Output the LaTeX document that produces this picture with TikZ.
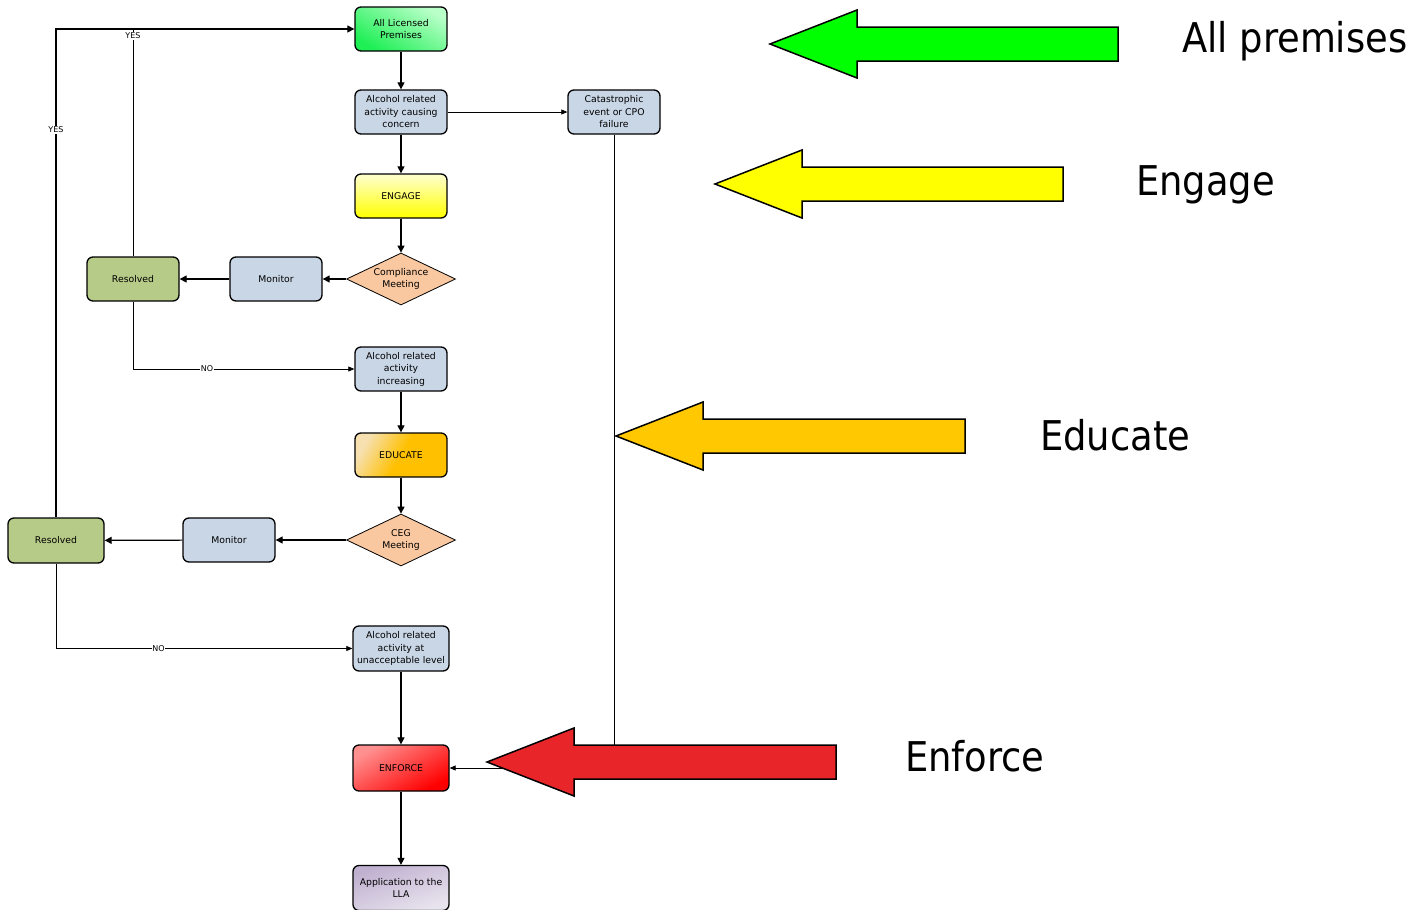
\documentclass[tikz,border=0pt]{standalone}
\usepackage{fontspec}
\setmainfont{DejaVu Sans}
\newfontfamily\bigfont{DejaVu Sans Condensed}
\usetikzlibrary{shapes.geometric,arrows.meta}
\definecolor{gLight}{HTML}{B8FFC8}
\definecolor{gDark}{HTML}{1EEF55}
\definecolor{yLight}{HTML}{FFFFD0}
\definecolor{yDark}{HTML}{FFFF00}
\definecolor{oLight}{HTML}{F6E0B0}
\definecolor{oDark}{HTML}{FFC000}
\definecolor{rLight}{HTML}{FF9090}
\definecolor{rDark}{HTML}{FF0000}
\definecolor{pLight}{HTML}{E8E4EE}
\definecolor{pDark}{HTML}{C0B0D0}
\definecolor{boxBlue}{HTML}{C9D6E6}
\definecolor{resGreen}{HTML}{B6CB87}
\definecolor{diaOrange}{HTML}{F9C8A0}
\definecolor{arrGreen}{HTML}{00FF00}
\definecolor{arrYellow}{HTML}{FFFF00}
\definecolor{arrOrange}{HTML}{FFC800}
\definecolor{arrRed}{HTML}{E8262A}
\tikzset{
  box/.style={draw=black, line width=1.3pt, rounded corners=6pt, minimum width=92pt, minimum height=44pt, align=center, font=\fontsize{9.3}{12.5}\selectfont, inner sep=1pt},
  bluebox/.style={box, fill=boxBlue},
  resbox/.style={box, fill=resGreen},
  dia/.style={diamond, draw=black, line width=0.8pt, fill=diaOrange, aspect=2.1, minimum width=109pt, minimum height=52pt, inner sep=0pt, align=center, font=\fontsize{9.3}{12.5}\selectfont},
  flow/.style={draw=black, line width=1.2pt, -{Triangle[length=7pt,width=7pt]}},
  thin/.style={draw=black, line width=0.7pt},
  thinflow/.style={thin, -{Triangle[length=6pt,width=5pt]}},
  lab/.style={fill=white, inner sep=0.5pt, font=\fontsize{8}{9}\selectfont},
  bigarrow/.style={draw=black, line width=1.5pt, line join=miter},
  biglabel/.style={anchor=west, font=\bigfont\fontsize{41}{45}\selectfont, inner sep=0pt}
}
\begin{document}
\begin{tikzpicture}[x=1pt,y=-1pt]
\useasboundingbox (0,0) rectangle (1416,910);

% main column
\node[box, top color=gLight, bottom color=gDark, shading angle=-30] (lic) at (401,29) {All Licensed\\Premises};
\node[bluebox] (concern) at (401,112) {Alcohol related\\activity causing\\concern};
\node[bluebox] (cat) at (614,112) {Catastrophic\\event or CPO\\failure};
\node[box, top color=yLight, bottom color=yDark] (engage) at (401,196) {ENGAGE};
\node[dia] (comp) at (401,279) {Compliance\\Meeting};
\node[bluebox] (mon1) at (276,279) {Monitor};
\node[resbox] (res1) at (133,279) {Resolved};
\node[bluebox] (incr) at (401,369) {Alcohol related\\activity\\increasing};
\node[box, left color=oLight, right color=oDark, middle color=oDark, shading angle=60] (educate) at (401,455) {EDUCATE};
\node[dia] (ceg) at (401,540) {CEG\\Meeting};
\node[bluebox] (mon2) at (229,540) {Monitor};
\node[resbox, minimum width=96pt, minimum height=45pt] (res2) at (56,540.5) {Resolved};
\node[bluebox, minimum width=96pt, minimum height=45pt] (unacc) at (401,648.5) {Alcohol related\\activity at\\unacceptable level};
\node[box, minimum width=96pt, minimum height=46pt, left color=rLight, right color=rDark, shading angle=30] (enforce) at (401,768) {ENFORCE};
\node[box, minimum width=96pt, minimum height=45pt, left color=pDark, right color=pLight, shading angle=20] (lla) at (401,888) {Application to the\\LLA};

% helper coordinates
\coordinate (topY) at (56,29);
\coordinate (res1top) at (133,29);
\coordinate (catdown) at (614,768);

% vertical flow
\draw[flow] (lic) -- (concern);
\draw[flow] (concern) -- (engage);
\draw[flow] (engage) -- (comp);
\draw[flow] (incr) -- (educate);
\draw[flow] (educate) -- (ceg);
\draw[flow] (unacc) -- (enforce);
\draw[flow] (enforce) -- (lla);

% side flows
\draw[flow] (comp) -- (mon1);
\draw[flow] (mon1) -- (res1);
\draw[flow] (ceg) -- (mon2);
\draw[flow] (mon2) -- (res2);

% YES loops
\draw[flow] (res2.north) -- (topY) -- (lic.west);
\draw[thin] (res1.north) -- (res1top);
\node[lab] (yes1) at (133,36) {YES};
\node[lab] (yes2) at (56,130) {YES};

% NO branches
\draw[thinflow] (res1.south) |- (incr.west) node[lab, pos=0.667] (no1) {NO};
\draw[thinflow] (res2.south) |- (unacc.west) node[lab, pos=0.673] (no2) {NO};

% catastrophic
\draw[thinflow] (concern.east) -- (cat.west);
\draw[thinflow] (cat.south) -- (catdown) -- (enforce.east);

% big arrows
\draw[bigarrow, fill=arrGreen] (770,44) -- (857,10) -- (857,27) -- (1118,27) -- (1118,61) -- (857,61) -- (857,78) -- cycle;
\draw[bigarrow, fill=arrYellow] (715,184) -- (802,150) -- (802,167) -- (1063,167) -- (1063,201) -- (802,201) -- (802,218) -- cycle;
\draw[bigarrow, fill=arrOrange] (616,436) -- (703,402) -- (703,419) -- (965,419) -- (965,453) -- (703,453) -- (703,470) -- cycle;
\draw[bigarrow, fill=arrRed] (487,762) -- (574,728) -- (574,745) -- (836,745) -- (836,779) -- (574,779) -- (574,796) -- cycle;

% big labels
\node[biglabel] (lAll) at (1182,41) {All premises};
\node[biglabel] (lEng) at (1136,185) {Engage};
\node[biglabel] (lEdu) at (1040,435) {Educate};
\node[biglabel] (lEnf) at (905,756) {Enforce};
\end{tikzpicture}
\end{document}
